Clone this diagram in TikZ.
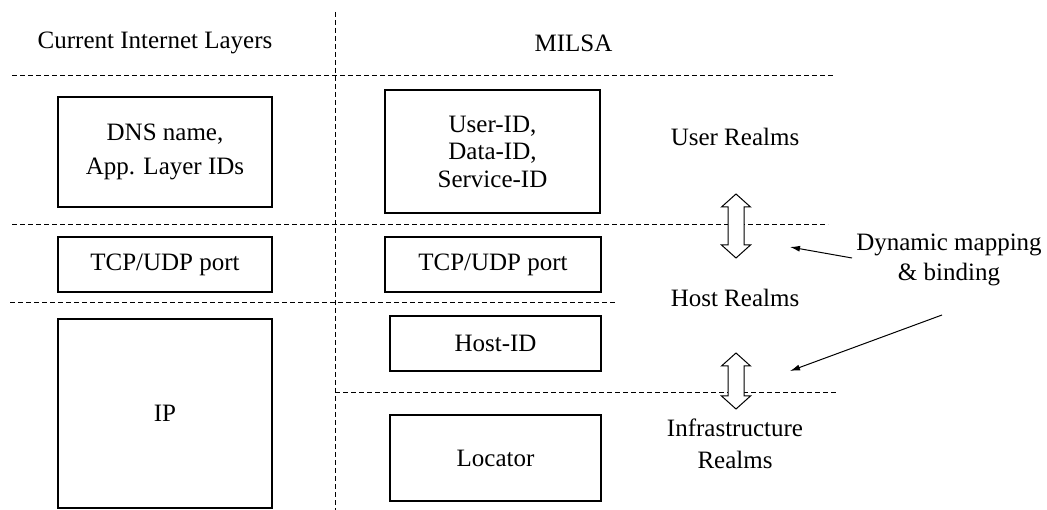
\documentclass[tikz,border=0pt]{standalone}
\usepackage{fontspec}
\setmainfont{Liberation Serif}
\usetikzlibrary{arrows.meta}
\begin{document}
\begin{tikzpicture}[x=1pt,y=-1pt,
  every node/.style={font=\fontsize{25}{27.5}\selectfont, align=center, inner sep=0pt},
  idbox/.style={draw, line width=1.1pt},
  sep/.style={draw, line width=0.9pt, dash pattern=on 5pt off 3pt},
  pointer/.style={draw, line width=1pt, -{Latex[length=10pt,width=6pt]}},
  dbl/.style={draw, line width=1pt, fill=white}]
\useasboundingbox (0,0) rectangle (1047,510);
% separators
\draw[sep] (335,12) -- (335,510);
\draw[sep] (12,75) -- (835,75);
\draw[sep] (12,224) -- (828,224);
\draw[sep] (10,302) -- (615,302);
\draw[sep] (335,392) -- (837,392);
% titles
\node (tleft) at (155,43) {Current Internet Layers};
\node (tright) at (573.5,43) {MILSA};
% left column boxes
\node[idbox, minimum width=214pt, minimum height=110pt] (dns) at (165,152) {DNS name,\\[7pt]App. Layer IDs};
\node[idbox, minimum width=214pt, minimum height=55pt] (tcpl) at (165,264.5) {TCP/UDP port};
\node[idbox, minimum width=214pt, minimum height=189pt] (ip) at (165,413.5) {IP};
% right column boxes
\node[idbox, minimum width=215pt, minimum height=123pt] (uid) at (492.5,151.5) {User-ID,\\Data-ID,\\Service-ID};
\node[idbox, minimum width=216pt, minimum height=55pt] (tcpr) at (493,264.5) {TCP/UDP port};
\node[idbox, minimum width=211pt, minimum height=55pt] (hid) at (495.5,343.5) {Host-ID};
\node[idbox, minimum width=211pt, minimum height=86pt] (loc) at (495.5,458) {Locator};
% realms
\node (user) at (735,137) {User Realms};
\node (host) at (735,298) {Host Realms};
\node (infra) at (735,444) {Infrastructure\\[4pt]Realms};
% double arrows
\draw[dbl] (736,194) -- (750.5,207) -- (744,207) -- (744,245) -- (750.5,245) -- (736,258)
  -- (721.5,245) -- (728,245) -- (728,207) -- (721.5,207) -- cycle;
\draw[dbl] (736,353) -- (750.5,366) -- (744,366) -- (744,396) -- (750.5,396) -- (736,409)
  -- (721.5,396) -- (728,396) -- (728,366) -- (721.5,366) -- cycle;
% dynamic mapping
\node (dm) at (949,260) {Dynamic mapping\\[2.5pt]\& binding};
\coordinate (t1) at (852,258);
\coordinate (h1) at (790,247);
\coordinate (t2) at (942,315);
\coordinate (h2) at (790,371);
\draw[pointer] (t1) -- (h1);
\draw[pointer] (t2) -- (h2);
\end{tikzpicture}
\end{document}
